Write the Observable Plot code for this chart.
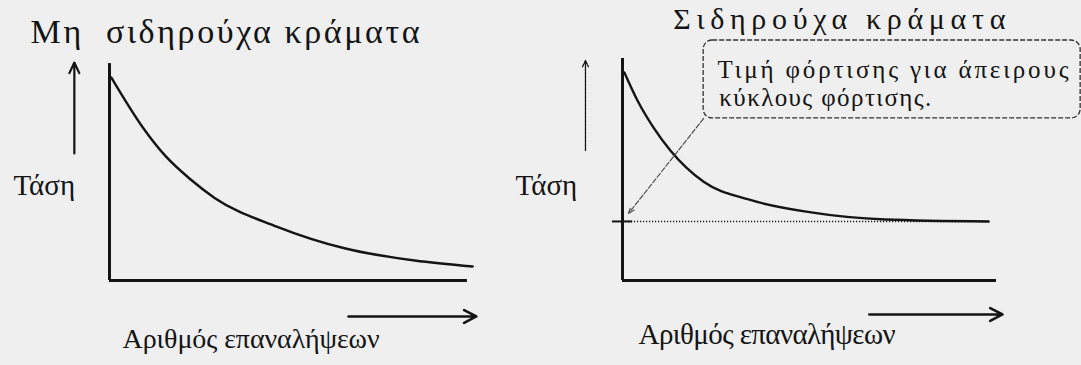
<!DOCTYPE html>
<html><head><meta charset="utf-8">
<script src="https://cdn.jsdelivr.net/npm/d3@7"></script>
<script src="https://cdn.jsdelivr.net/npm/@observablehq/plot@0.6"></script>
<style>
html,body{margin:0;padding:0;background:#efefef;}
#chart{width:1081px;height:365px;overflow:hidden;}
#chart svg text{font-family:"Liberation Serif","DejaVu Serif",serif !important;}
</style></head><body><div id="chart"></div>
<script>
// Panels (facets)
const panels = ["Μη\u00a0\u00a0σιδηρούχα κράματα", "Σιδηρούχα κράματα"];
// Non-ferrous alloys: stress vs. number of cycles (schematic units)
const nonFerrousCycles = [0.05, 0.91, 1.50, 2.17, 2.81, 4.47, 6.31, 8.16, 9.71];
const nonFerrousStress = [9.14, 6.85, 5.60, 4.55, 3.72, 2.43, 1.44, 0.90, 0.63];
// Ferrous alloys
const ferrousCycles = [0.05, 0.40, 0.83, 1.28, 2.17, 3.37, 5.00, 7.03, 9.79];
const ferrousStress = [9.37, 8.11, 6.89, 5.86, 4.45, 3.65, 3.08, 2.75, 2.66];
// Endurance limit (ferrous)
const enduranceLimit = [2.66];
// Texts
const yLabel = ["Τάση"];
const xLabel = ["Αριθμός επαναλήψεων"];
const calloutLines = ["Τιμή φόρτισης για άπειρους", "κύκλους φόρτισης."];

const rows = [
  ...nonFerrousCycles.map((c, i) => ({panel: panels[0], cycles: c, stress: nonFerrousStress[i]})),
  ...ferrousCycles.map((c, i) => ({panel: panels[1], cycles: c, stress: ferrousStress[i]}))
];
const P = i => () => panels[i];
const ink = "#141414";
const serif = "Liberation Serif";

const chart = Plot.plot({
  width: 1081, height: 365,
  marginLeft: 109, marginRight: 85, marginTop: 58, marginBottom: 85,
  style: {background: "#efefef", color: ink},
  fx: {domain: panels, paddingInner: 0.271, paddingOuter: 0, axis: null, label: null},
  x: {domain: [0, 10], axis: null},
  y: {domain: [0, 10], axis: null},
  marks: [
    // axes lines
    Plot.ruleX([0], {fx: P(0), x: 0, y1: 0, y2: 9.77, stroke: ink, strokeWidth: 3}),
    Plot.ruleX([0], {fx: P(1), x: 0, y1: 0, y2: 10, stroke: ink, strokeWidth: 3}),
    Plot.ruleY([0], {fx: P(0), y: 0, x1: 0, x2: 9.57, stroke: ink, strokeWidth: 3}),
    Plot.ruleY([0], {fx: P(1), y: 0, x1: 0, x2: 10, stroke: ink, strokeWidth: 3}),
    // endurance limit dotted line + tick
    Plot.ruleY(enduranceLimit, {fx: P(1), y: d => d, x1: 0, x2: 9.79, stroke: ink, strokeWidth: 1.4, strokeDasharray: "1.2,1.8"}),
    Plot.ruleY(enduranceLimit, {fx: P(1), y: d => d, x1: -0.27, x2: 0.27, stroke: ink, strokeWidth: 2}),
    // curves
    Plot.line(rows, {fx: "panel", z: "panel", x: "cycles", y: "stress", curve: "monotone-x", stroke: ink, strokeWidth: 2.4}),
    // direction arrows
    Plot.arrow([0], {fx: P(0), x1: -0.94, y1: 5.72, x2: -0.94, y2: 9.82, stroke: ink, strokeWidth: 2.2, headLength: 8, headAngle: 50}),
    Plot.arrow([0], {fx: P(1), x1: -0.99, y1: 5.86, x2: -0.99, y2: 9.91, stroke: ink, strokeWidth: 1.3, strokeDasharray: "3,1", headLength: 8, headAngle: 50}),
    Plot.arrow([0], {fx: P(0), x1: 6.39, y1: -1.62, x2: 9.81, y2: -1.62, stroke: ink, strokeWidth: 2.6, headLength: 8, headAngle: 55}),
    Plot.arrow([0], {fx: P(1), x1: 6.60, y1: -1.53, x2: 10.16, y2: -1.53, stroke: ink, strokeWidth: 2.6, headLength: 8, headAngle: 55}),
    // callout box and leader
    Plot.rect([0], {fx: P(1), x1: 2.17, x2: 12.25, y1: 7.30, y2: 10.81, fill: "none", stroke: "#333", strokeWidth: 1.3, strokeDasharray: "5,2", rx: 9}),
    Plot.arrow([0], {fx: P(1), x1: 2.17, y1: 7.30, x2: 0.16, y2: 3.02, stroke: "#444", strokeWidth: 1.1, strokeDasharray: "5,2", headLength: 9, headAngle: 40}),
    // titles
    Plot.text([panels[0]], {fx: d => d, text: d => d, x: -2.11, y: 10.72, textAnchor: "start", lineAnchor: "bottom", fontSize: 34, fontFamily: serif, fill: ink}),
    Plot.text([panels[1]], {fx: d => d, text: d => d, x: 1.36, y: 11.35, textAnchor: "start", lineAnchor: "bottom", fontSize: 30, fontFamily: serif, fill: ink}),
    // y labels
    Plot.text(yLabel, {fx: P(0), text: d => d, x: -2.57, y: 3.83, textAnchor: "start", lineAnchor: "bottom", fontSize: 29, fontFamily: serif, fill: ink}),
    Plot.text(yLabel, {fx: P(1), text: d => d, x: -2.86, y: 3.83, textAnchor: "start", lineAnchor: "bottom", fontSize: 29, fontFamily: serif, fill: ink}),
    // x labels
    Plot.text(xLabel, {fx: P(0), text: d => d, x: 0.35, y: -3.06, textAnchor: "start", lineAnchor: "bottom", fontSize: 28, fontFamily: serif, fill: ink}),
    Plot.text(xLabel, {fx: P(1), text: d => d, x: 0.43, y: -2.84, textAnchor: "start", lineAnchor: "bottom", fontSize: 29, fontFamily: serif, fill: ink}),
    // callout text
    Plot.text([calloutLines[0]], {fx: P(1), text: d => d, x: 2.54, y: 9.10, textAnchor: "start", lineAnchor: "bottom", fontSize: 25, fontFamily: serif, fill: ink}),
    Plot.text([calloutLines[1]], {fx: P(1), text: d => d, x: 2.59, y: 7.84, textAnchor: "start", lineAnchor: "bottom", fontSize: 25, fontFamily: serif, fill: ink})
  ]
});
document.getElementById("chart").appendChild(chart);
// Fit each text to the width it spans in the reference via letter-spacing
const targets = new Map([
  [panels[0], 389], [panels[1], 332], [xLabel[0], 257], [calloutLines[0], 351], [calloutLines[1], 212]
]);
d3.select(chart).selectAll("text").each(function() {
  const t = this.textContent;
  if (!targets.has(t)) return;
  const w = this.getComputedTextLength();
  const n = [...t].length;
  const ls = (targets.get(t) - w) / Math.max(1, n - 1);
  d3.select(this).attr("letter-spacing", ls.toFixed(2));
});
</script></body></html>
